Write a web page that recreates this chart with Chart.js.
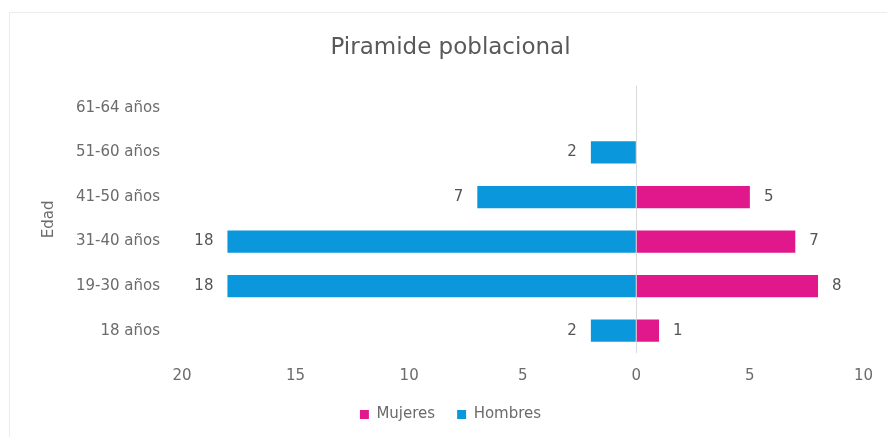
<!DOCTYPE html>
<html>
<head>
<meta charset="utf-8">
<script src="https://cdn.jsdelivr.net/npm/chart.js@4/dist/chart.umd.min.js"></script>
<style>
  html, body { margin: 0; padding: 0; background: #fff; }
  #wrap { width: 887px; height: 437px; }
</style>
</head>
<body>
<div id="wrap"><canvas id="pyramid" width="887" height="437"></canvas></div>
<script>
const ageGroups = ["61-64 años", "51-60 años", "41-50 años", "31-40 años", "19-30 años", "18 años"];
const mujeres = [0, 0, 5, 7, 8, 1];
const hombres = [0, 2, 7, 18, 18, 2];
const xTicks = [-20, -15, -10, -5, 0, 5, 10];

const textColor = "#6b6b6b";
const fontFamily = "'DejaVu Sans', sans-serif";

// hombres are drawn to the left of zero
const hombresLeft = hombres.map(v => -v);

// value labels at the outer end of each bar
const barLabels = {
    id: "barLabels",
    afterDatasetsDraw(chart) {
        const ctx = chart.ctx;
        ctx.save();
        ctx.font = "15px " + fontFamily;
        ctx.fillStyle = "#555555";
        ctx.textBaseline = "middle";
        chart.data.datasets.forEach((ds, i) => {
            const meta = chart.getDatasetMeta(i);
            meta.data.forEach((bar, j) => {
                const v = ds.data[j];
                if (!v) return;
                if (v < 0) {
                    ctx.textAlign = "right";
                    ctx.fillText(String(Math.abs(v)), bar.x - 14, bar.y);
                } else {
                    ctx.textAlign = "left";
                    ctx.fillText(String(v), bar.x + 14, bar.y);
                }
            });
        });
        ctx.restore();
    }
};

// faint frame like the original sheet
const frame = {
    id: "frame",
    beforeDraw(chart) {
        const ctx = chart.ctx;
        ctx.save();
        ctx.strokeStyle = "#ececec";
        ctx.lineWidth = 1;
        ctx.strokeRect(9.5, 12.5, chart.width, chart.height);
        ctx.restore();
    }
};

new Chart(document.getElementById("pyramid"), {
    type: "bar",
    data: {
        labels: ageGroups,
        datasets: [
            {
                label: "Mujeres",
                data: mujeres,
                backgroundColor: "#e1188c",
                barPercentage: 0.5,
                categoryPercentage: 1
            },
            {
                label: "Hombres",
                data: hombresLeft,
                backgroundColor: "#0a97dc",
                barPercentage: 0.5,
                categoryPercentage: 1
            }
        ]
    },
    options: {
        indexAxis: "y",
        responsive: false,
        animation: false,
        layout: {
            padding: { left: 36, right: 22, top: 0, bottom: 5 }
        },
        scales: {
            x: {
                stacked: true,
                min: -20,
                max: 10,
                afterBuildTicks(scale) {
                    scale.ticks = xTicks.map(v => ({ value: v }));
                },
                afterFit(scale) {
                    scale.height = 32;
                },
                ticks: {
                    color: textColor,
                    font: { family: fontFamily, size: 15 },
                    padding: 14,
                    callback: v => Math.abs(v)
                },
                grid: {
                    drawTicks: false,
                    color: c => (c.tick && c.tick.value === 0 ? "#d9d9d9" : "rgba(0,0,0,0)")
                },
                border: { display: false }
            },
            y: {
                stacked: true,
                afterFit(scale) {
                    scale.width = 146;
                },
                ticks: {
                    color: textColor,
                    font: { family: fontFamily, size: 15 },
                    padding: 22
                },
                grid: { display: false, drawTicks: false },
                border: { display: false },
                title: {
                    display: true,
                    text: "Edad",
                    color: textColor,
                    font: { family: fontFamily, size: 15 }
                }
            }
        },
        plugins: {
            title: {
                display: true,
                text: "Piramide poblacional",
                color: "#595959",
                font: { family: fontFamily, size: 23, weight: "normal" },
                padding: { top: 34, bottom: 24 }
            },
            legend: {
                position: "bottom",
                labels: {
                    color: textColor,
                    font: { family: fontFamily, size: 15 },
                    boxWidth: 9,
                    boxHeight: 9,
                    padding: 22
                }
            },
            tooltip: { enabled: false }
        }
    },
    plugins: [frame, barLabels]
});
</script>
</body>
</html>
